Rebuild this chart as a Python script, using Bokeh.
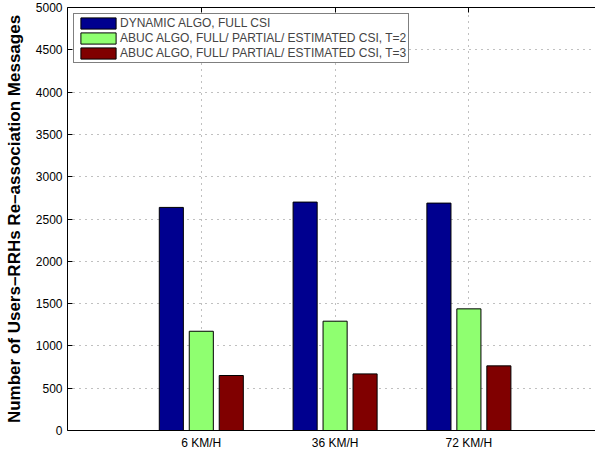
from bokeh.plotting import figure
from bokeh.models import (Range1d, FixedTicker, LinearAxis, Legend, LegendItem)
from bokeh.embed import file_html
from bokeh.resources import INLINE

# ---- data ----
categories = ["6 KM/H", "36 KM/H", "72 KM/H"]
dynamic_full = [2637, 2700, 2688]
abuc_t2 = [1173, 1292, 1438]
abuc_t3 = [650, 669, 764]
series_labels = [
    "DYNAMIC ALGO, FULL CSI",
    "ABUC ALGO, FULL/ PARTIAL/ ESTIMATED CSI, T=2",
    "ABUC ALGO, FULL/ PARTIAL/ ESTIMATED CSI, T=3",
]
series_colors = ["#00008F", "#8FFF70", "#800000"]
y_ticks = [0, 500, 1000, 1500, 2000, 2500, 3000, 3500, 4000, 4500, 5000]
y_label = "Number of Users\u2013RRHs Re\u2013association Messages"

FONT = "Liberation Sans"
W, H = 595, 453
FL, FR, FT, FB = 67, 595, 7, 430

xpos = [i + 1 for i in range(len(categories))]
x_end = (FR - FL) / 133.8

p = figure(width=W, height=H, output_backend="svg", toolbar_location=None,
           x_range=Range1d(0, x_end), y_range=Range1d(0, 5000),
           min_border_left=FL, min_border_right=W - FR,
           min_border_top=FT, min_border_bottom=H - FB,
           x_axis_location="below", y_axis_location="left")
p.outline_line_color = None
p.background_fill_color = "white"
p.border_fill_color = "white"

offsets = [-0.224, 0.0, 0.224]
series = [dynamic_full, abuc_t2, abuc_t3]
renderers = []
for vals, off, col in zip(series, offsets, series_colors):
    r = p.vbar(x=[x + off for x in xpos], top=vals, bottom=0, width=0.18,
               fill_color=col, line_color="black", line_width=1)
    renderers.append(r)

# axes
xa = p.xaxis[0]
xa.ticker = FixedTicker(ticks=xpos)
xa.major_label_overrides = {x: c for x, c in zip(xpos, categories)}
xa.major_tick_in = 0
xa.major_tick_out = 0
xa.minor_tick_line_color = None
xa.major_label_standoff = 5
xa.major_label_text_font = FONT
xa.major_label_text_font_size = "12px"
xa.major_label_text_color = "black"
xa.axis_line_color = "black"

ya = p.yaxis[0]
ya.ticker = FixedTicker(ticks=y_ticks)
ya.major_tick_in = 5
ya.major_tick_out = 0
ya.minor_tick_line_color = None
ya.major_label_standoff = 5
ya.major_label_text_font = FONT
ya.major_label_text_font_size = "12px"
ya.major_label_text_color = "black"
ya.axis_line_color = "black"
ya.axis_label = y_label
ya.axis_label_text_font = FONT
ya.axis_label_text_font_style = "bold"
ya.axis_label_text_font_size = "17px"
ya.axis_label_text_color = "black"
ya.axis_label_standoff = 9

top = LinearAxis(ticker=FixedTicker(ticks=xpos), major_tick_in=5, major_tick_out=0,
                 minor_tick_line_color=None, major_label_text_font_size="0px",
                 major_label_standoff=0, axis_line_color="black",
                 major_label_overrides={x: "" for x in xpos})
p.add_layout(top, "above")

# grids
p.xgrid.ticker = FixedTicker(ticks=xpos)
p.ygrid.ticker = FixedTicker(ticks=y_ticks)
for g in (p.xgrid[0], p.ygrid[0]):
    g.grid_line_color = "#808080"
    g.grid_line_dash = "1 5"
    g.grid_line_width = 1

legend = Legend(items=[LegendItem(label=l, renderers=[r]) for l, r in zip(series_labels, renderers)],
                location="top_left", margin=6, padding=2, spacing=1,
                glyph_width=44, glyph_height=14, label_height=14, label_standoff=0,
                label_text_font=FONT, label_text_font_size="12px",
                border_line_color="black", border_line_width=1,
                background_fill_color="white", background_fill_alpha=1)
p.add_layout(legend, "center")

open("out.html", "w").write(file_html(p, INLINE))
